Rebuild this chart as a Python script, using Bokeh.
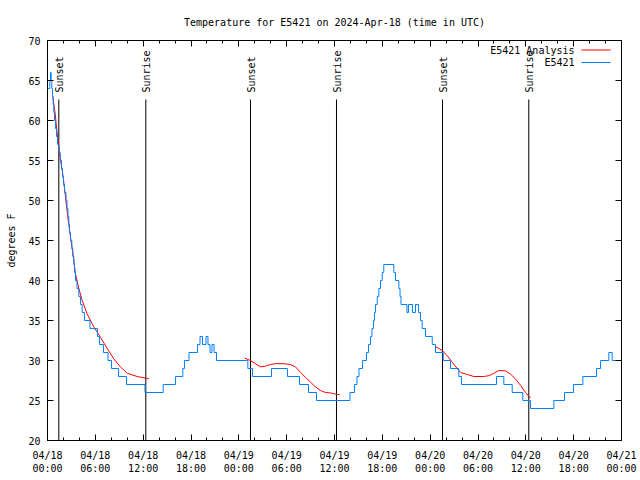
from bokeh.plotting import figure
from bokeh.models import LinearAxis, FixedTicker, Range1d, CustomJSTickFormatter
from bokeh.core.properties import value
from bokeh.embed import file_html
from bokeh.resources import INLINE

FONT = "DejaVu Sans Mono"

# ---------------- data ----------------
title_text = "Temperature for E5421 on 2024-Apr-18 (time in UTC)"
station = "E5421"

# observed temperature (deg F), value holds from each time (hours after 04/18 00:00 UTC)
obs_hours = [0.00, 0.29, 0.38, 0.46, 0.54, 0.63, 0.71, 0.79, 0.88, 1.00, 1.13, 1.25, 1.44, 1.59,
             1.76, 1.88, 2.01, 2.13, 2.32, 2.45, 2.57, 2.67, 2.76, 2.89, 3.05, 3.17, 3.30, 3.39,
             3.51, 3.70, 3.93, 4.14, 4.35, 4.64, 5.33, 6.27, 6.52, 7.02, 7.59, 8.03, 8.91, 9.91,
             12.23, 14.51, 16.06, 16.97, 17.18, 17.75, 18.82, 19.13, 19.44, 19.88, 20.13, 20.38,
             20.63, 20.89, 21.20, 25.13, 25.71, 28.10, 30.10, 31.61, 32.74, 33.74, 37.94, 38.51,
             38.82, 39.07, 39.51, 40.01, 40.27, 40.52, 40.70, 40.89, 41.02, 41.14, 41.36, 41.56,
             41.77, 41.98, 42.18, 43.44, 43.65, 44.07, 44.22, 44.34, 45.09, 45.28, 45.78, 46.16,
             46.54, 46.79, 47.00, 47.42, 48.26, 48.67, 49.64, 50.55, 51.59, 51.93, 56.32, 57.24,
             58.29, 59.62, 60.59, 63.51, 64.85, 65.98, 67.15, 68.87, 69.37, 70.41, 70.83, 72.00]
obs_temps = [64, 65, 66, 65, 64, 63, 62, 61, 60, 59, 58, 57, 56, 55,
             54, 53, 52, 51, 50, 49, 48, 47, 46, 45, 44, 43, 42, 41,
             40, 39, 38, 37, 36, 35, 34, 33, 32, 31, 30, 29, 28, 27,
             26, 27, 28, 29, 30, 31, 32, 33, 32, 33, 32, 31,
             32, 31, 30, 29, 28, 29, 28, 27, 26, 25, 26, 27,
             28, 29, 30, 31, 32, 33, 34, 35, 36, 37, 38, 39,
             40, 41, 42, 41, 40, 39, 38, 37, 36, 37, 36, 37,
             36, 35, 34, 33, 32, 31, 30, 29, 28, 27, 28, 27,
             26, 25, 24, 25, 26, 27, 28, 29, 30, 31, 30, 30]

# analysis curve, three night-time segments
ana1_hours = [0.66, 0.97, 1.22, 1.51, 1.92, 2.22, 2.55, 2.89, 3.26, 3.51, 3.93, 4.35, 4.98, 5.81,
              6.65, 7.49, 8.32, 9.16, 10.00, 11.25, 12.29, 12.71]
ana1_temps = [63.0, 60.8, 58.3, 55.8, 53.3, 50.8, 47.9, 45.4, 42.9, 40.8, 39.0, 37.5, 35.8, 34.2,
              32.9, 31.5, 30.2, 29.2, 28.4, 28.0, 27.8, 27.7]
ana2_hours = [24.71, 25.46, 26.09, 26.72, 27.35, 27.98, 28.60, 29.64, 30.48, 31.11, 31.74, 32.36,
              32.99, 33.62, 34.24, 34.87, 35.50, 36.13, 36.67]
ana2_temps = [30.3, 30.0, 29.6, 29.2, 29.3, 29.5, 29.6, 29.6, 29.5, 29.2, 28.5, 27.9,
              27.3, 26.7, 26.25, 26.0, 25.95, 25.8, 25.7]
ana3_hours = [48.67, 49.51, 50.14, 50.76, 51.39, 51.81, 52.65, 53.48, 54.73, 55.36, 55.99, 56.61,
              57.45, 58.08, 58.70, 59.33, 59.96, 60.59]
ana3_temps = [31.75, 31.25, 30.6, 29.8, 29.0, 28.5, 28.25, 28.0, 28.0, 28.1, 28.4, 28.75,
              28.7, 28.3, 27.7, 26.9, 26.0, 25.3]

sunset_hours = [1.42, 25.46, 49.55]
sunrise_hours = [12.33, 36.25, 60.37]

tick_hours = [0, 6, 12, 18, 24, 30, 36, 42, 48, 54, 60, 66, 72]
tick_labels = ["04/18\n00:00", "04/18\n06:00", "04/18\n12:00", "04/18\n18:00",
               "04/19\n00:00", "04/19\n06:00", "04/19\n12:00", "04/19\n18:00",
               "04/20\n00:00", "04/20\n06:00", "04/20\n12:00", "04/20\n18:00",
               "04/21\n00:00"]
minor_hours = list(range(0, 73, 2))
y_ticks = [20, 25, 30, 35, 40, 45, 50, 55, 60, 65, 70]

# ---------------- figure ----------------
X0, X1, Y0, Y1 = 0, 72, 20, 70
FW, FH = 574, 400  # frame size in px
p = figure(width=640, height=480, output_backend="svg", toolbar_location=None,
           x_range=Range1d(X0, X1), y_range=Range1d(Y0, Y1),
           x_axis_type=None, y_axis_type=None,
           min_border_left=47, min_border_right=19, min_border_top=40, min_border_bottom=40)
p.title.text = title_text
p.title.align = "center"
p.title.text_font = FONT
p.title.text_font_size = "10px"
p.title.text_font_style = "normal"
p.title.text_color = "black"
p.title.standoff = 26
p.outline_line_color = "black"
p.outline_line_width = 1
p.background_fill_color = "white"
p.border_fill_color = "white"


def fx(px):
    return X0 + (X1 - X0) * px / FW


def fy(px_from_top):
    return Y1 - (Y1 - Y0) * px_from_top / FH


blank = CustomJSTickFormatter(code="return '';")


def style_axis(ax, labels=True):
    ax.axis_line_color = None
    ax.major_tick_in = 6
    ax.major_tick_out = 0
    ax.minor_tick_in = 3
    ax.minor_tick_out = 0
    ax.major_tick_line_color = "black"
    ax.minor_tick_line_color = "black"
    ax.major_label_text_font = FONT
    ax.major_label_text_font_size = "10px"
    ax.major_label_text_color = "black"
    if not labels:
        ax.formatter = blank
        ax.major_label_standoff = 0


xb = LinearAxis(ticker=FixedTicker(ticks=tick_hours, minor_ticks=minor_hours),
                major_label_overrides={h: l for h, l in zip(tick_hours, tick_labels)})
style_axis(xb)
xb.major_label_standoff = 9
p.add_layout(xb, "below")

xt = LinearAxis(ticker=FixedTicker(ticks=tick_hours, minor_ticks=minor_hours))
style_axis(xt, labels=False)
p.add_layout(xt, "above")

yl = LinearAxis(ticker=FixedTicker(ticks=y_ticks, minor_ticks=[]),
                axis_label="degrees F")
style_axis(yl)
yl.major_label_standoff = 7
yl.axis_label_text_font = FONT
yl.axis_label_text_font_size = "10px"
yl.axis_label_text_font_style = "normal"
yl.axis_label_text_color = "black"
yl.axis_label_standoff = 8
p.add_layout(yl, "left")

yr = LinearAxis(ticker=FixedTicker(ticks=y_ticks, minor_ticks=[]))
style_axis(yr, labels=False)
p.add_layout(yr, "right")

RED = "#ff0000"
BLUE = "#0080ff"

# sunrise / sunset lines and labels
sun_x = sunset_hours + sunrise_hours
sun_txt = ["Sunset"] * len(sunset_hours) + ["Sunrise"] * len(sunrise_hours)
line_top = fy(59)
text_bottom = fy(52)
p.segment(x0=sun_x, x1=sun_x, y0=[Y0] * len(sun_x), y1=[line_top] * len(sun_x),
          line_color="black", line_width=1)
p.text(x=sun_x, y=[text_bottom] * len(sun_x), text=sun_txt, angle=1.5708,
       text_align="left", text_baseline="middle", x_offset=1,
       text_font=value(FONT), text_font_size="10px", text_color="black")

# data
p.multi_line(xs=[ana1_hours, ana2_hours, ana3_hours], ys=[ana1_temps, ana2_temps, ana3_temps],
             line_color=RED, line_width=1)
p.step(x=obs_hours, y=obs_temps, mode="after", line_color=BLUE, line_width=1)

# legend (gnuplot style: text then sample)
leg_rows = [fy(9.5), fy(22)]
p.text(x=[fx(527)] * 2, y=leg_rows, text=[station + " Analysis", station],
       text_align="right", text_baseline="middle",
       text_font=value(FONT), text_font_size="10px", text_color="black")
p.segment(x0=[fx(534)] * 2, x1=[fx(563)] * 2, y0=leg_rows, y1=leg_rows,
          line_color=[RED, BLUE], line_width=1)

open("out.html", "w").write(file_html(p, INLINE))
